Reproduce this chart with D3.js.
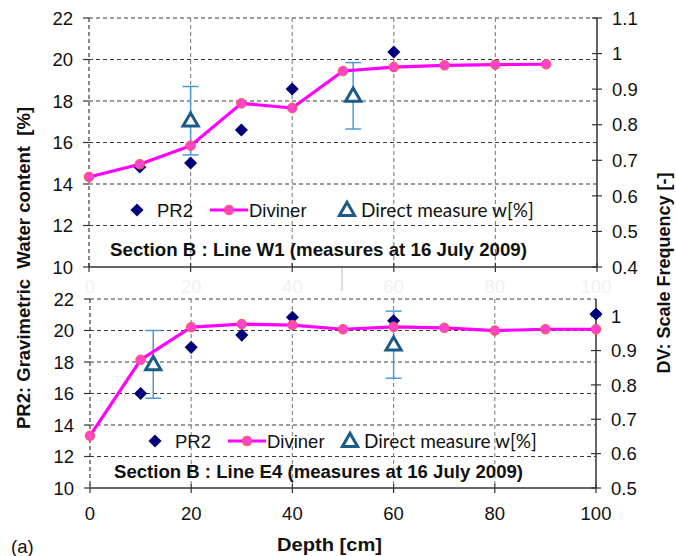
<!DOCTYPE html>
<html>
<head>
<meta charset="utf-8">
<script src="https://cdn.jsdelivr.net/npm/d3@7"></script>
<style>
  html, body { margin: 0; padding: 0; background: #fff; }
  svg { display: block; }
  text { font-family: Arial, "Liberation Sans", sans-serif; fill: #111; }
</style>
</head>
<body>
<svg id="chart" width="676" height="556"></svg>
<script>
// ---- data ----
const depthTicks = [0, 20, 40, 60, 80, 100];
const leftTicks = [10, 12, 14, 16, 18, 20, 22];
const rightTicksTop = [0.4, 0.5, 0.6, 0.7, 0.8, 0.9, 1, 1.1];
const rightTicksBottom = [0.5, 0.6, 0.7, 0.8, 0.9, 1];

// Line W1
const w1PR2Depth = [10, 20, 30, 40, 60];
const w1PR2 = [14.82, 15.01, 16.6, 18.58, 20.36];
const w1DivDepth = [0, 10, 20, 30, 40, 50, 60, 70, 80, 90];
const w1Div = [0.653, 0.689, 0.741, 0.860, 0.847, 0.951, 0.962, 0.967, 0.969, 0.970];
const w1DirDepth = [20, 52];
const w1Dir = [17.05, 18.25];
const w1DirErr = [1.65, 1.6];

// Line E4
const e4PR2Depth = [10, 20, 30, 40, 60, 100];
const e4PR2 = [16.0, 18.93, 19.71, 20.84, 20.62, 21.05];
const e4DivDepth = [0, 10, 20, 30, 40, 50, 60, 70, 80, 90, 100];
const e4Div = [0.652, 0.873, 0.968, 0.977, 0.974, 0.962, 0.969, 0.966, 0.958, 0.962, 0.962];
const e4DirDepth = [12.5, 60];
const e4Dir = [17.85, 19.1];
const e4DirErr = [2.15, 2.13];

const titles = [
  "Section B : Line W1 (measures at 16 July 2009)",
  "Section B : Line E4 (measures at 16 July 2009)"
];

const svg = d3.select("#chart");
const C = { div: "#ff00ff", divFill: "#ff44cc", divEdge: "#ff5a4a", pr2: "#00007a", dir: "#1b5b87", err: "#4f9bd0" };
const FS = 18.5;

function panel(cfg) {
  const x = d3.scaleLinear().domain([0, 100]).range(cfg.xr);
  const yL = d3.scaleLinear().domain([10, 22]).range(cfg.yr);
  const yR = d3.scaleLinear().domain(cfg.rdom).range(cfg.yr);
  const g = svg.append("g");
  const [x0, x1] = cfg.xr, [yb, yt] = cfg.yr;

  // horizontal dashed grid (left axis majors), incl. top border
  g.selectAll(".hg").data(leftTicks.filter(v => v > 10)).join("line")
    .attr("x1", x0).attr("x2", x1).attr("y1", d => yL(d)).attr("y2", d => yL(d))
    .attr("stroke", "#3a3a3a").attr("stroke-width", 1.2).attr("stroke-dasharray", "4,3");
  // vertical dashed grid
  g.selectAll(".vg").data([20, 40, 60, 80]).join("line")
    .attr("x1", d => x(d)).attr("x2", d => x(d)).attr("y1", yt).attr("y2", yb)
    .attr("stroke", "#8a8a8a").attr("stroke-width", 1.2).attr("stroke-dasharray", "4,3");
  // left border (dashed)
  g.append("line").attr("x1", x0).attr("x2", x0).attr("y1", yt).attr("y2", yb)
    .attr("stroke", "#3a3a3a").attr("stroke-width", 1.2).attr("stroke-dasharray", "4,3");

  // left axis ticks + labels
  g.selectAll(".lt").data(leftTicks).join("line")
    .attr("x1", x0 - 6).attr("x2", x0).attr("y1", d => yL(d)).attr("y2", d => yL(d))
    .attr("stroke", "#333").attr("stroke-width", 1.2);
  g.selectAll(".ll").data(leftTicks).join("text")
    .attr("x", x0 - 16).attr("y", d => yL(d)).attr("dy", "0.36em")
    .attr("text-anchor", "end").attr("font-size", FS).text(d => d);

  // right axis
  g.append("line").attr("x1", x1).attr("x2", x1).attr("y1", yt).attr("y2", yb)
    .attr("stroke", "#333").attr("stroke-width", 1.5);
  g.selectAll(".rt").data(cfg.rticks).join("line")
    .attr("x1", x1 - 5).attr("x2", x1 + 5).attr("y1", d => yR(d)).attr("y2", d => yR(d))
    .attr("stroke", "#333").attr("stroke-width", 1.2);
  g.selectAll(".rl").data(cfg.rticks).join("text")
    .attr("x", x1 + 15).attr("y", d => yR(d)).attr("dy", "0.36em")
    .attr("font-size", FS).text(d => d3.format("~g")(d));

  // bottom axis
  g.append("line").attr("x1", x0).attr("x2", x1).attr("y1", yb).attr("y2", yb)
    .attr("stroke", "#333").attr("stroke-width", 1.5);
  g.selectAll(".bt").data(depthTicks).join("line")
    .attr("x1", d => x(d)).attr("x2", d => x(d)).attr("y1", yb - 4).attr("y2", yb + 5)
    .attr("stroke", "#333").attr("stroke-width", 1.2);

  // error bars for direct measure
  const dir = cfg.dirDepth.map((d, i) => ({ x: d, y: cfg.dir[i], e: cfg.dirErr[i] }));
  const eb = g.selectAll(".eb").data(dir).join("g");
  eb.append("line").attr("x1", d => x(d.x)).attr("x2", d => x(d.x))
    .attr("y1", d => yL(d.y + d.e)).attr("y2", d => yL(d.y - d.e))
    .attr("stroke", C.err).attr("stroke-width", 1.5);
  [1, -1].forEach(s => {
    eb.append("line").attr("x1", d => x(d.x) - 8).attr("x2", d => x(d.x) + 8)
      .attr("y1", d => yL(d.y + s * d.e)).attr("y2", d => yL(d.y + s * d.e))
      .attr("stroke", C.err).attr("stroke-width", 1.5);
  });

  // PR2 diamonds
  const diamond = d3.symbol().type(d3.symbolSquare).size(86);
  g.selectAll(".pr2").data(cfg.pr2Depth.map((d, i) => [d, cfg.pr2[i]])).join("path")
    .attr("d", diamond)
    .attr("transform", d => `translate(${x(d[0])},${yL(d[1])}) rotate(45)`)
    .attr("fill", C.pr2);

  // Diviner line + markers (right axis)
  const dv = cfg.divDepth.map((d, i) => [d, cfg.div[i]]);
  g.append("path").datum(dv)
    .attr("d", d3.line().x(d => x(d[0])).y(d => yR(d[1])))
    .attr("fill", "none").attr("stroke", C.div).attr("stroke-width", 3.2).attr("stroke-linejoin", "round");
  g.selectAll(".dvm").data(dv).join("circle")
    .attr("cx", d => x(d[0])).attr("cy", d => yR(d[1])).attr("r", 4.8)
    .attr("fill", C.divFill).attr("stroke", C.divEdge).attr("stroke-width", 1);

  // direct measure triangles
  const tri = d3.symbol().type(d3.symbolTriangle).size(100);
  g.selectAll(".dir").data(dir).join("path")
    .attr("d", tri)
    .attr("transform", d => `translate(${x(d.x)},${yL(d.y) + 1})`)
    .attr("fill", "#fff").attr("stroke", C.dir).attr("stroke-width", 3).attr("stroke-linejoin", "miter");

  // legend
  const L = cfg.legend;
  g.append("path").attr("d", diamond)
    .attr("transform", `translate(${L.dia},${L.y}) rotate(45)`).attr("fill", C.pr2);
  g.append("text").attr("x", L.dia + 20).attr("y", L.y).attr("dy", "0.36em")
    .attr("font-size", FS).text("PR2");
  g.append("line").attr("x1", L.line[0]).attr("x2", L.line[1]).attr("y1", L.y).attr("y2", L.y)
    .attr("stroke", C.div).attr("stroke-width", 3.2);
  g.append("circle").attr("cx", (L.line[0] + L.line[1]) / 2).attr("cy", L.y).attr("r", 4.8)
    .attr("fill", C.divFill).attr("stroke", C.divEdge).attr("stroke-width", 1);
  g.append("text").attr("x", L.line[1] + 1).attr("y", L.y).attr("dy", "0.36em")
    .attr("font-size", FS).text("Diviner");
  g.append("path").attr("d", tri).attr("transform", `translate(${L.tri},${L.y + 1})`)
    .attr("fill", "#fff").attr("stroke", C.dir).attr("stroke-width", 3);
  g.append("text").attr("x", L.tri + 14).attr("y", L.y).attr("dy", "0.36em")
    .attr("font-size", 19).style("font-family", "Lato, 'Open Sans', sans-serif")
    .text("Direct measure w[%]");

  // panel title
  g.append("text").attr("x", cfg.title.x).attr("y", cfg.title.y).attr("dy", "0.36em")
    .attr("font-size", 18).attr("font-weight", "bold")
    .attr("textLength", cfg.title.w).attr("lengthAdjust", "spacingAndGlyphs")
    .text(cfg.title.t);

  return x;
}

panel({
  xr: [89, 597], yr: [267, 18], rdom: [0.4, 1.1], rticks: rightTicksTop,
  pr2Depth: w1PR2Depth, pr2: w1PR2, divDepth: w1DivDepth, div: w1Div,
  dirDepth: w1DirDepth, dir: w1Dir, dirErr: w1DirErr,
  legend: { y: 210, dia: 137, line: [210, 248], tri: 347 },
  title: { x: 110, y: 250, w: 417, t: titles[0] }
});

const xb = panel({
  xr: [90, 596], yr: [488, 299], rdom: [0.5, 1.05], rticks: rightTicksBottom,
  pr2Depth: e4PR2Depth, pr2: e4PR2, divDepth: e4DivDepth, div: e4Div,
  dirDepth: e4DirDepth, dir: e4Dir, dirErr: e4DirErr,
  legend: { y: 441, dia: 155, line: [228, 266], tri: 350 },
  title: { x: 114, y: 472, w: 409, t: titles[1] }
});

// faint labels between panels
svg.selectAll(".ghost").data(depthTicks).join("text")
  .attr("x", d => xb(d)).attr("y", 293).attr("text-anchor", "middle")
  .attr("font-size", FS).style("fill", "#eef2f7").text(d => d);
svg.append("line").attr("x1", 342).attr("x2", 342).attr("y1", 268).attr("y2", 291)
  .attr("stroke", "#b8b8b8").attr("stroke-width", 1);

// depth axis labels
svg.selectAll(".xl").data(depthTicks).join("text")
  .attr("x", d => xb(d)).attr("y", 513).attr("dy", "0.36em").attr("text-anchor", "middle")
  .attr("font-size", FS).text(d => d);
svg.append("text").attr("x", 277).attr("y", 544).attr("dy", "0.36em")
  .attr("font-size", 18.5).attr("font-weight", "bold")
  .attr("textLength", 105).attr("lengthAdjust", "spacingAndGlyphs").text("Depth [cm]");
svg.append("text").attr("x", 11).attr("y", 546).attr("dy", "0.36em")
  .attr("font-size", 18.5).text("(a)");

// axis titles
svg.append("text").attr("transform", "translate(23,268) rotate(-90)").attr("dy", "0.36em")
  .attr("text-anchor", "middle").attr("font-size", 18.5).attr("font-weight", "bold")
  .attr("xml:space", "preserve").text("PR2: Gravimetric  Water content  [%]");
svg.append("text").attr("transform", "translate(664,273) rotate(-90)").attr("dy", "0.36em")
  .attr("text-anchor", "middle").attr("font-size", 18).attr("font-weight", "bold")
  .text("DV: Scale Frequency [-]");
</script>
</body>
</html>
